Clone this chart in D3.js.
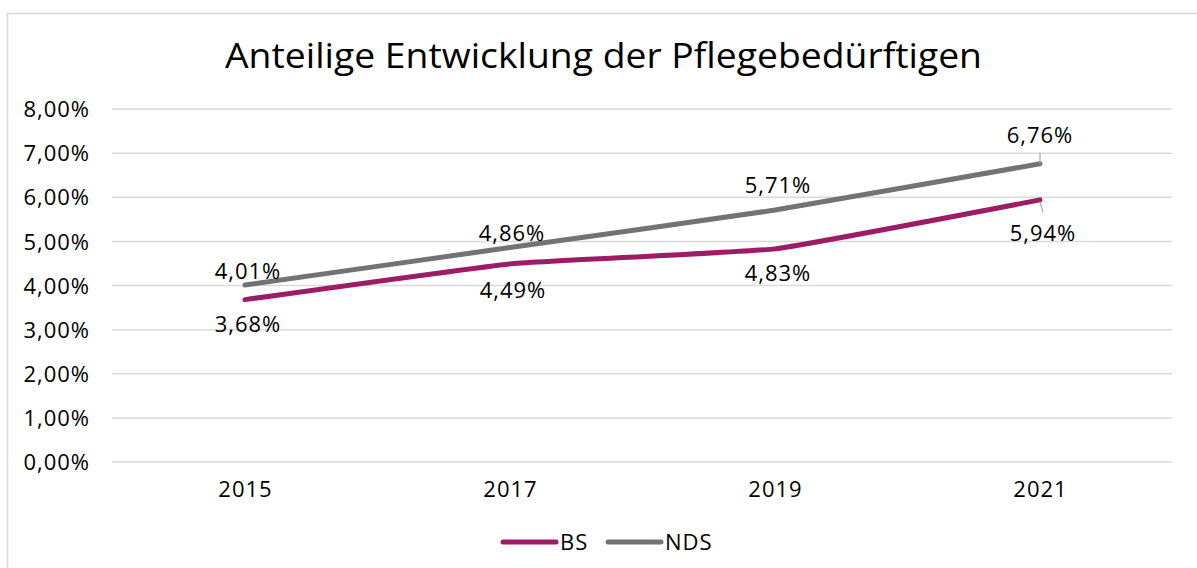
<!DOCTYPE html>
<html><head><meta charset="utf-8">
<script src="https://cdn.jsdelivr.net/npm/d3@7"></script>
<style>html,body{margin:0;padding:0;background:#fff;}svg{display:block;}</style>
</head><body>
<script>
const categories = ["2015", "2017", "2019", "2021"];
const seriesNames = ["BS", "NDS"];
const bsValues = [3.68, 4.49, 4.83, 5.94];
const ndsValues = [4.01, 4.86, 5.71, 6.76];
const yTicks = [0, 1, 2, 3, 4, 5, 6, 7, 8];
const title = "Anteilige Entwicklung der Pflegebedürftigen";

const W = 1197, H = 568;
const colors = {BS: "#9C1C66", NDS: "#737373"};
const font = "'Open Sans', 'Noto Sans', sans-serif";
const fs = 22;
const ls = "1px";
const fmt = v => v.toFixed(2).replace(".", ",") + "%";

const svg = d3.select("body").append("svg").attr("width", W).attr("height", H);

// frame
svg.append("rect").attr("x", 7.5).attr("y", 13.5).attr("width", W).attr("height", H)
  .attr("fill", "#fff").attr("stroke", "#d9d9d9").attr("stroke-width", 1.5);

const x = d3.scalePoint().domain(categories).range([245, 1040]);
const y = d3.scaleLinear().domain([0, 8]).range([462, 109]);

// title
svg.append("text").attr("x", 225).attr("y", 68)
  .attr("font-family", font).attr("font-size", 35).attr("fill", "#000")
  .attr("textLength", 757).attr("lengthAdjust", "spacingAndGlyphs").text(title);

// grid
svg.append("g").selectAll("line").data(yTicks).join("line")
  .attr("x1", 112).attr("x2", 1172)
  .attr("y1", d => y(d)).attr("y2", d => y(d))
  .attr("stroke", "#d9d9d9").attr("stroke-width", 1.5);

// y axis labels
const yAxis = d3.axisLeft(y).tickValues(yTicks).tickFormat(fmt).tickSize(0).tickPadding(0);
const gy = svg.append("g").attr("transform", "translate(90,0)").call(yAxis);
gy.select(".domain").remove();
gy.selectAll("text").attr("font-family", font).attr("font-size", fs).attr("fill", "#000")
  .attr("letter-spacing", ls).attr("dy", "0.35em");

// x axis labels
const xAxis = d3.axisBottom(x).tickSize(0).tickPadding(0);
const gx = svg.append("g").attr("transform", "translate(0,481)").call(xAxis);
gx.select(".domain").remove();
gx.selectAll("text").attr("font-family", font).attr("font-size", fs).attr("fill", "#000")
  .attr("letter-spacing", ls).attr("dy", "0.71em");

const line = d3.line().x((d, i) => x(categories[i])).y(d => y(d)).curve(d3.curveCardinal.tension(0.7));

const data = [
  {name: "BS", values: bsValues},
  {name: "NDS", values: ndsValues}
];

data.forEach(s => {
  svg.append("path").attr("d", line(s.values)).attr("fill", "none")
    .attr("stroke", colors[s.name]).attr("stroke-width", 5).attr("stroke-linecap", "round");
});

// leader lines
svg.append("line").attr("x1", x("2021")).attr("x2", x("2021"))
  .attr("y1", y(ndsValues[3]) - 11).attr("y2", y(ndsValues[3]))
  .attr("stroke", "#a6a6a6").attr("stroke-width", 1.2);
svg.append("line").attr("x1", x("2021")).attr("x2", x("2021") + 3)
  .attr("y1", y(bsValues[3]) + 2).attr("y2", y(bsValues[3]) + 12)
  .attr("stroke", "#a6a6a6").attr("stroke-width", 1.2);

// data labels (offsets of label centre from the point)
const ndsOff = [[3, -14], [2, -14], [3, -25], [0, -28]];
const bsOff = [[3, 25], [3, 26], [3, 24], [3, 33]];
const lblG = svg.append("g").attr("font-family", font).attr("font-size", fs).attr("fill", "#000")
  .attr("letter-spacing", ls).attr("text-anchor", "middle");
ndsValues.forEach((v, i) => {
  lblG.append("text").attr("x", x(categories[i]) + ndsOff[i][0]).attr("y", y(v) + ndsOff[i][1])
    .attr("dy", "0.35em").text(fmt(v));
});
bsValues.forEach((v, i) => {
  lblG.append("text").attr("x", x(categories[i]) + bsOff[i][0]).attr("y", y(v) + bsOff[i][1])
    .attr("dy", "0.35em").text(fmt(v));
});

// legend
const leg = svg.append("g").attr("font-family", font).attr("font-size", fs).attr("letter-spacing", ls);
const legX = {BS: 503, NDS: 608};
seriesNames.forEach(n => {
  leg.append("line").attr("x1", legX[n]).attr("x2", legX[n] + 53).attr("y1", 542).attr("y2", 542)
    .attr("stroke", colors[n]).attr("stroke-width", 5).attr("stroke-linecap", "round");
  leg.append("text").attr("x", legX[n] + 57).attr("y", 542).attr("dy", "0.35em").attr("fill", "#000").text(n);
});
</script>
</body></html>
